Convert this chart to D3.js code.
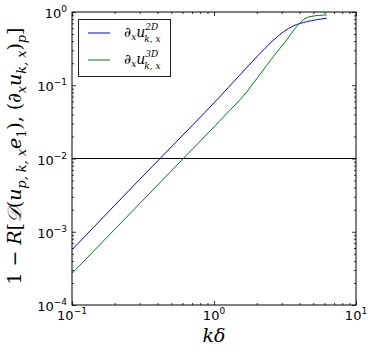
<html>
<script src="https://d3js.org/d3.v7.min.js"></script>
<body style="margin:0">
<style>
    body { background: white; }
    .math { font-family: "DejaVu Serif", serif; font-style: italic; }
    .tick-label { font-family: "DejaVu Sans", sans-serif; font-size: 13px; }
</style>
<svg width="374" height="355"></svg>
<script>
// k*delta values and the two curves
var kd2D = [0.1, 0.2, 0.3, 0.417, 0.7, 1.05, 1.52, 2.0, 2.62, 3.08, 3.62, 4.49, 6.22];
var val2D = [5.68e-4, 2.30e-3, 5.2e-3, 1.0e-2, 2.8e-2, 6.34e-2, 0.138, 0.244, 0.412, 0.535, 0.646, 0.736, 0.822];

var kd3D = [0.1, 0.2, 0.35, 0.608, 1.0, 1.3, 1.52, 1.70, 1.9, 2.11, 2.62, 3.25, 3.82, 4.26, 4.74, 6.22];
var val3D = [2.7e-4, 1.08e-3, 3.3e-3, 1.0e-2, 2.7e-2, 0.046, 0.063, 0.081, 0.108, 0.141, 0.247, 0.416, 0.632, 0.78, 0.865, 0.912];

var xDecades = [-1, 0, 1];
var yDecades = [-4, -3, -2, -1, 0];
var threshold = 1e-2;

var plotL = 72, plotR = 356, plotT = 12, plotB = 305;

var svg = d3.select("svg");

var x = d3.scaleLog().domain([0.1, 10]).range([plotL, plotR]);
var y = d3.scaleLog().domain([1e-4, 1]).range([plotB, plotT]);

// minor tick values
var xMinor = [], yMinor = [];
xDecades.slice(0, -1).forEach(function(e) { for (var m = 2; m < 10; m++) xMinor.push(m * Math.pow(10, e)); });
yDecades.slice(0, -1).forEach(function(e) { for (var m = 2; m < 10; m++) yMinor.push(m * Math.pow(10, e)); });
var xMajor = xDecades.map(function(e) { return Math.pow(10, e); });
var yMajor = yDecades.map(function(e) { return Math.pow(10, e); });

function tickAxis(axis, vals, size, tx, ty) {
    var g = svg.append("g").attr("transform", "translate(" + tx + "," + ty + ")")
        .call(axis.tickValues(vals).tickSize(size).tickFormat(""));
    g.select(".domain").remove();
    g.selectAll("line").attr("stroke", "black").attr("stroke-width", 0.8);
}
// ticks inside on all four sides
tickAxis(d3.axisBottom(x), xMajor, -4, 0, plotB);
tickAxis(d3.axisBottom(x), xMinor, -2, 0, plotB);
tickAxis(d3.axisTop(x), xMajor, -4, 0, plotT);
tickAxis(d3.axisTop(x), xMinor, -2, 0, plotT);
tickAxis(d3.axisLeft(y), yMajor, -4, plotL, 0);
tickAxis(d3.axisLeft(y), yMinor, -2, plotL, 0);
tickAxis(d3.axisRight(y), yMajor, -4, plotR, 0);
tickAxis(d3.axisRight(y), yMinor, -2, plotR, 0);

// tick labels 10^n
xDecades.forEach(function(e) {
    var t = svg.append("text").attr("class", "tick-label")
        .attr("x", x(Math.pow(10, e))).attr("y", plotB + 15).attr("text-anchor", "middle");
    t.append("tspan").text("10");
    t.append("tspan").attr("dy", -6).style("font-size", "9px").text(e < 0 ? "\u2212" + (-e) : e);
});
yDecades.forEach(function(e) {
    var t = svg.append("text").attr("class", "tick-label")
        .attr("x", plotL - 5).attr("y", y(Math.pow(10, e)) + 6).attr("text-anchor", "end");
    t.append("tspan").text("10");
    t.append("tspan").attr("dy", -6).style("font-size", "9px").text(e < 0 ? "\u2212" + (-e) : e);
});

// threshold line
svg.append("line")
    .attr("x1", plotL).attr("x2", plotR)
    .attr("y1", y(threshold)).attr("y2", y(threshold))
    .attr("stroke", "black").attr("stroke-width", 1);

var line = d3.line()
    .x(function(d) { return x(d[0]); })
    .y(function(d) { return y(d[1]); })
    .curve(d3.curveMonotoneX);

svg.append("path").datum(d3.zip(kd2D, val2D))
    .attr("d", line).attr("fill", "none").attr("stroke", "#0000ff").attr("stroke-width", 1);
svg.append("path").datum(d3.zip(kd3D, val3D))
    .attr("d", line).attr("fill", "none").attr("stroke", "#008000").attr("stroke-width", 1);

// frame
svg.append("rect")
    .attr("x", plotL).attr("y", plotT)
    .attr("width", plotR - plotL).attr("height", plotB - plotT)
    .attr("fill", "none").attr("stroke", "black").attr("stroke-width", 1);

// legend
svg.append("rect").attr("x", 78.5).attr("y", 19.5).attr("width", 92).attr("height", 57)
    .attr("fill", "white").attr("stroke", "#222").attr("stroke-width", 1);
var legend = [{c: "#0000ff", sup: "2D", yy: 33}, {c: "#008000", sup: "3D", yy: 60}];
legend.forEach(function(l) {
    svg.append("line").attr("x1", 88).attr("x2", 110).attr("y1", l.yy).attr("y2", l.yy)
        .attr("stroke", l.c).attr("stroke-width", 1);
    var t = svg.append("text").attr("class", "math").attr("x", 124).attr("y", l.yy + 4)
        .style("font-size", "14px");
    t.append("tspan").style("font-style", "normal").text("\u2202");
    t.append("tspan").attr("dy", 3).style("font-size", "9px").text("x");
    t.append("tspan").attr("dy", -3).text("u");
    t.append("tspan").attr("dy", -7).style("font-size", "9px").text(l.sup);
    t.append("tspan").attr("dx", -14).attr("dy", 12).style("font-size", "9px").text("k, x");
});

// axis labels
svg.append("text").attr("class", "math")
    .attr("x", x(1)).attr("y", 342).attr("text-anchor", "middle")
    .style("font-size", "19px").text("k\u03b4");

var yl = svg.append("text").attr("class", "math")
    .attr("transform", "translate(21,156) rotate(-90)")
    .attr("text-anchor", "middle").style("font-size", "19px")
    .attr("textLength", 257).attr("lengthAdjust", "spacing");
yl.append("tspan").style("font-style", "normal").text("1 \u2212 ");
yl.append("tspan").text("R");
yl.append("tspan").style("font-style", "normal").text("[");
yl.append("tspan").text("\ud835\udc9f");
yl.append("tspan").style("font-style", "normal").text("(");
yl.append("tspan").text("u");
yl.append("tspan").attr("dy", 5).style("font-size", "13px").text("p, k, x");
yl.append("tspan").attr("dy", -5).text("e");
yl.append("tspan").attr("dy", 5).style("font-size", "13px").style("font-style", "normal").text("1");
yl.append("tspan").attr("dy", -5).style("font-style", "normal").text("), (\u2202");
yl.append("tspan").attr("dy", 5).style("font-size", "13px").text("x");
yl.append("tspan").attr("dy", -5).text("u");
yl.append("tspan").attr("dy", 5).style("font-size", "13px").text("k, x");
yl.append("tspan").attr("dy", -5).style("font-style", "normal").text(")");
yl.append("tspan").attr("dy", 5).style("font-size", "13px").text("p");
yl.append("tspan").attr("dy", -5).style("font-style", "normal").text("]");
</script>
</body>
</html>
